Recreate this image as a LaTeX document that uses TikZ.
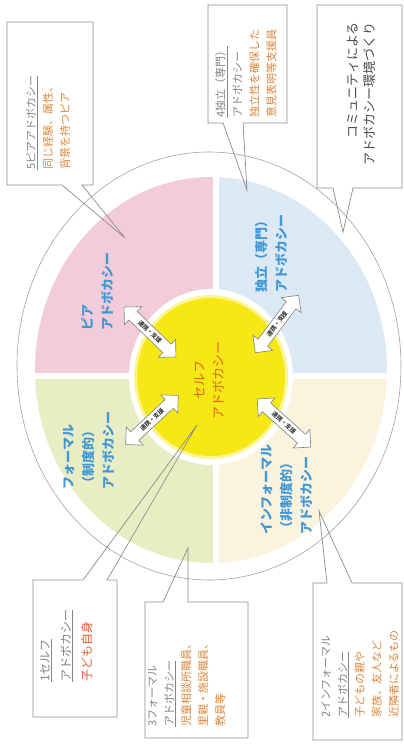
\documentclass[tikz,border=0pt]{standalone}
\usepackage{fontspec}
\newfontfamily\jp{Noto Sans CJK JP}
\usetikzlibrary{shapes.arrows}
\definecolor{pinkq}{HTML}{F2CCDA}
\definecolor{blueq}{HTML}{DCE9F4}
\definecolor{greenq}{HTML}{E8EDC4}
\definecolor{creamq}{HTML}{FBF3DE}
\definecolor{yel}{HTML}{F6E815}
\definecolor{tgray}{HTML}{858585}
\definecolor{torange}{HTML}{DC873E}
\definecolor{tred}{HTML}{E2612E}
\definecolor{tblue}{HTML}{3F97D6}
\definecolor{lgray}{HTML}{8C8C8C}
\tikzset{
  boxline/.style={draw=lgray, line width=0.7pt, line join=miter},
  boxtext/.style={rotate=90, align=left, inner sep=0pt, anchor=north west,
    font=\jp\fontsize{11}{17}\selectfont},
  qlabel/.style={rotate=90, align=left, inner sep=0pt, anchor=north west,
    text=tblue, font=\jp\bfseries\fontsize{13}{20}\selectfont},
  linkarrow/.style={double arrow, draw=gray, fill=white, line width=0.6pt,
    double arrow head extend=6.5pt, inner sep=2.8pt, minimum height=72pt,
    font=\jp\bfseries\fontsize{6}{6}\selectfont, text=black!75}
}
\begin{document}
\begin{tikzpicture}[x=1pt,y=-1pt]
\useasboundingbox (0,0) rectangle (404,747);
\fill[white] (0,0) rectangle (404,747);
% outer ring
\draw[lgray!80, line width=0.6pt] (209,366) ellipse [x radius=192, y radius=214];
% quadrants
\begin{scope}
\clip (211,370) ellipse [x radius=176, y radius=193];
\fill[pinkq] (0,0) rectangle (213,373);
\fill[blueq] (219,0) rectangle (404,373);
\fill[greenq] (0,379) rectangle (213,747);
\fill[creamq] (219,379) rectangle (404,747);
\end{scope}
% central disk
\fill[white] (211,377) ellipse [x radius=82, y radius=88];
\fill[yel!45] (211,377) ellipse [x radius=77, y radius=82];
\fill[yel] (211,377) ellipse [x radius=74, y radius=79];
\node[rotate=90, align=center, inner sep=0pt, text=tred,
  font=\jp\fontsize{13}{19}\selectfont] (self) at (209,380) {セルフ\\アドボカシー};
% quadrant labels
\node[qlabel] (peer) at (81,331) {ピア\\アドボカシー};
\node[qlabel] (indep) at (255,293) {独立（専門）\\アドボカシー};
\node[qlabel] (formal) at (63,490) {フォーマル\\（制度的）\\アドボカシー};
\node[qlabel] (informal) at (261,535) {インフォーマル\\（非制度的）\\アドボカシー};
% link arrows
\node[linkarrow, rotate=-44] (a1) at (150,332) {連携・支援};
\node[linkarrow, rotate=53] (a2) at (277,324) {連携・支援};
\node[linkarrow, rotate=43] (a3) at (152,420) {連携・支援};
\node[linkarrow, rotate=-42] (a4) at (284,423) {連携・支援};
% callout 5 (peer)
\draw[boxline] (7,22) -- (93,22) -- (93,185) -- (82,185) -- (125,238) -- (62,185) -- (7,185) -- cycle;
\node[boxtext] (t5) at (26,170) {\textcolor{tgray}{\underline{5ピアアドボカシー}}\\
  \textcolor{torange}{同じ経験、属性、}\\\textcolor{torange}{背景を持つピア}};
% callout 4 (independent)
\draw[boxline] (208,5) -- (287,5) -- (287,123) -- (243,123) -- (247,190) -- (223,123) -- (208,123) -- cycle;
\node[boxtext] (t4) at (215,118) {\textcolor{tgray}{\underline{4独立（専門）}}\\
  \textcolor{tgray}{アドボカシー}\\\textcolor{torange}{独立性を確保した}\\\textcolor{torange}{意見表明等支援員}};
% callout 6 (community)
\draw[boxline] (317,5) -- (402,5) -- (402,188) -- (353,188) -- (343,232) -- (333,188) -- (317,188) -- cycle;
\node[rotate=90, align=right, inner sep=0pt, anchor=south east, text=black!70,
  font=\jp\fontsize{13}{17}\selectfont] (t6) at (376,22) {コミュニティによる\\アドボカシー環境づくり};
% callout 1 (self)
\draw[boxline] (33,580) -- (83,580) -- (197,425) -- (107,580) -- (117,580) -- (117,717) -- (33,717) -- cycle;
\node[boxtext, font=\jp\fontsize{12}{21}\selectfont] (t1) at (40,682) {\textcolor{tgray}{\underline{1セルフ}}\\
  \textcolor{tgray}{\underline{アドボカシー}}\\\textcolor{tred}{子ども自身}};
% callout 3 (formal)
\draw[boxline] (145,602) -- (163,602) -- (188,548) -- (188,602) -- (248,602) -- (248,738) -- (145,738) -- cycle;
\node[boxtext] (t3) at (148,727) {\textcolor{tgray}{3フォーマル}\\
  \textcolor{tgray}{\underline{アドボカシー}}\\\textcolor{torange}{児童相談所職員、}\\\textcolor{torange}{里親・施設職員、}\\\textcolor{torange}{教員等}};
% callout 2 (informal)
\draw[boxline] (313,583) -- (327,583) -- (319,511) -- (352,583) -- (402,583) -- (402,740) -- (313,740) -- cycle;
\node[boxtext] (t2) at (321,718) {\textcolor{tgray}{2インフォーマル}\\
  \textcolor{tgray}{\underline{アドボカシー}}\\\textcolor{torange}{子どもの親や}\\\textcolor{torange}{家族、友人など}\\\textcolor{torange}{近隣者によるもの}};
\end{tikzpicture}
\end{document}
